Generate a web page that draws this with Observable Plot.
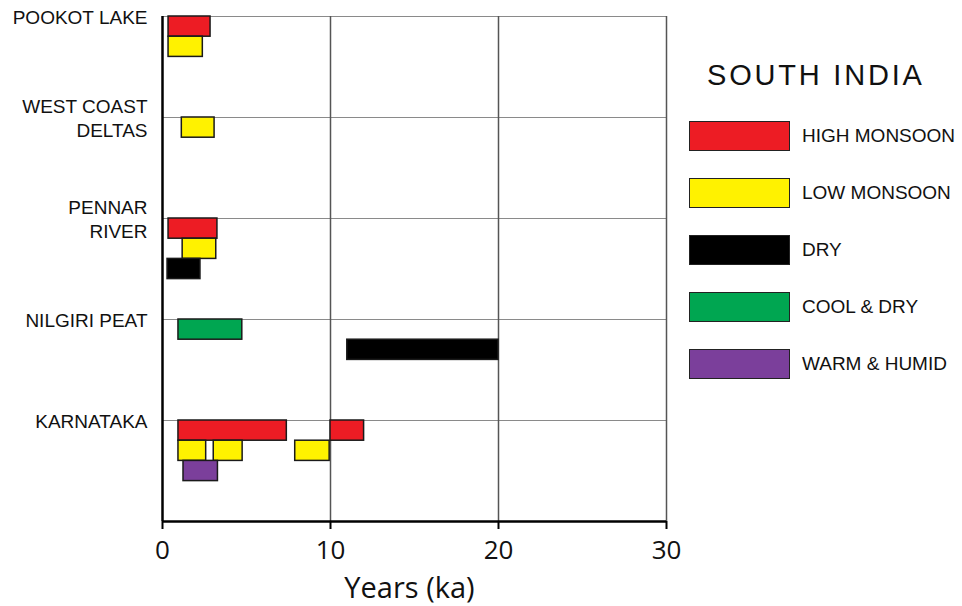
<!DOCTYPE html>
<html>
<head>
<meta charset="utf-8">
<script src="https://cdn.jsdelivr.net/npm/d3@7"></script>
<script src="https://cdn.jsdelivr.net/npm/@observablehq/plot@0.6"></script>
<style>
  html, body { margin: 0; padding: 0; background: #fff; }
  #wrap { position: relative; width: 962px; height: 606px; overflow: hidden; }
  #title { position: absolute; left: 707px; top: 61px; font: 29px "Liberation Sans", Arial, sans-serif; letter-spacing: 2.8px; line-height: 1; color: #111; white-space: nowrap; }
  #legend { position: absolute; left: 689px; top: 121px; font: 19px "Liberation Sans", Arial, sans-serif; color: #111; }
  .row { display: flex; align-items: center; height: 30px; margin-bottom: 27px; }
  .sw { width: 101px; height: 30px; box-sizing: border-box; border: 1.5px solid #222; }
  .lab { margin-left: 12px; white-space: nowrap; }
</style>
</head>
<body>
<div id="wrap">
  <div id="chart"></div>
  <div id="title"></div>
  <div id="legend"></div>
</div>
<script>
// ---- data ----
const titleText = "SOUTH INDIA";
const xLabel = "Years (ka)";
const xTicks = [0, 10, 20, 30];
const sites = ["POOKOT LAKE", "WEST COAST\nDELTAS", "PENNAR\nRIVER", "NILGIRI PEAT", "KARNATAKA"];
const types = ["HIGH MONSOON", "LOW MONSOON", "DRY", "COOL & DRY", "WARM & HUMID"];
const typeColors = ["#ed1c24", "#fff200", "#000000", "#00a651", "#7b3f9b"];

// each bar: site index, sub-row within the site, start (ka), end (ka), type
const barSite  = [0, 0, 1, 2, 2, 2, 3, 3, 4, 4, 4, 4, 4, 4];
const barRow   = [0, 1, 0, 0, 1, 2, 0, 1, 0, 0, 1, 1, 1, 2];
const barStart = [0.36, 0.36, 1.15, 0.36, 1.2, 0.3, 0.95, 11.0, 0.95, 10.0, 0.95, 3.05, 7.9, 1.25];
const barEnd   = [2.86, 2.4, 3.1, 3.27, 3.2, 2.26, 4.75, 20.0, 7.4, 12.0, 2.6, 4.77, 9.95, 3.3];
const barType  = [0, 1, 1, 0, 1, 2, 3, 2, 0, 0, 1, 1, 1, 4];

// ---- build ----
const bandSize = 5;   // y units per site band
const bars = barSite.map((s, i) => ({
  site: s, row: barRow[i], start: barStart[i], end: barEnd[i], type: types[barType[i]]
}));
const siteTicks = sites.map((_, i) => i * bandSize);

const chart = Plot.plot({
  width: 962,
  height: 606,
  marginLeft: 162,
  marginRight: 296,
  marginTop: 16,
  marginBottom: 85,
  style: { fontFamily: "'Liberation Sans', Arial, sans-serif", color: "#111", background: "#fff" },
  x: { domain: [0, 30] },
  y: { domain: [0, sites.length * bandSize], reverse: true },
  color: { domain: types, range: typeColors },
  marks: [
    Plot.ruleY(siteTicks, { stroke: "#8a8a8a", strokeWidth: 1.2 }),
    Plot.ruleX(xTicks.slice(1), { stroke: "#555", strokeWidth: 1.5 }),
    Plot.rect(bars, {
      x1: "start", x2: "end",
      y1: d => d.site * bandSize + d.row,
      y2: d => d.site * bandSize + d.row + 1,
      fill: "type", stroke: "#1a1a1a", strokeWidth: 1.5
    }),
    Plot.ruleX([0], { stroke: "#000", strokeWidth: 2.5 }),
    Plot.ruleY([sites.length * bandSize], { stroke: "#000", strokeWidth: 2.5 }),
    Plot.axisY({
      ticks: siteTicks,
      tickFormat: v => sites[v / bandSize],
      tickSize: 0, tickPadding: 15,
      fontSize: 19, lineHeight: 1.25,
      label: null
    }),
    Plot.axisX({
      ticks: xTicks, tickSize: 8, tickPadding: 11,
      stroke: "#000", strokeWidth: 2,
      fontSize: 26, fontFamily: "'Open Sans', sans-serif",
      label: null
    }),
    Plot.text([xLabel], {
      frameAnchor: "bottom", dx: -5, dy: 76, lineAnchor: "bottom",
      fontSize: 29, fontFamily: "'Open Sans', sans-serif", fill: "#111"
    })
  ]
});
document.getElementById("chart").appendChild(chart);

document.getElementById("title").textContent = titleText;
const legend = d3.select("#legend");
types.forEach((t, i) => {
  const row = legend.append("div").attr("class", "row");
  row.append("div").attr("class", "sw").style("background", typeColors[i]);
  row.append("div").attr("class", "lab").text(t);
});
</script>
</body>
</html>
